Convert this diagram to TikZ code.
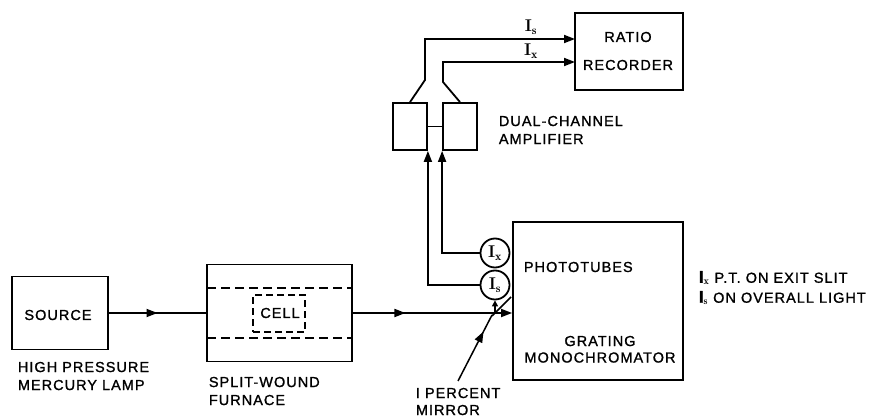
\documentclass[tikz,border=0pt]{standalone}
\usepackage{fontspec}
\newfontfamily\lett{Liberation Sans}[LetterSpace=7,FakeBold=1.2]
\usetikzlibrary{arrows.meta,decorations.markings}
\begin{document}
\begin{tikzpicture}[x=1pt,y=-1pt,line width=1.8pt,
  blk/.style={draw,rectangle,inner sep=0pt},
  lbl/.style={font=\lett\fontsize{14.5}{18}\selectfont,inner sep=0pt,align=left},
  ilbl/.style={font=\fontsize{17}{18}\selectfont\bfseries,inner sep=0pt},
  tube/.style={draw,circle,minimum size=29pt,inner sep=0pt,font=\fontsize{17}{18}\selectfont\bfseries},
  tip/.style={-{Triangle[length=11pt,width=8pt]}},
  midarrow/.style={postaction={decorate,decoration={markings,mark=at position #1 with {\arrow{Triangle[length=11pt,width=8pt]}}}}}
]
\useasboundingbox (0,0) rectangle (889,417);

% blocks
\node[blk,minimum width=96pt,minimum height=73pt] (src) at (60,313) {};
\node[blk,minimum width=145pt,minimum height=97pt] (furn) at (279.5,313) {};
\node[blk,dashed,dash pattern=on 7pt off 4pt,minimum width=52pt,minimum height=37pt] (cell) at (279,313.5) {};
\coordinate (dA1) at (207,288); \coordinate (dA2) at (352,288);
\coordinate (dB1) at (207,338); \coordinate (dB2) at (352,338);
\draw[dash pattern=on 9pt off 5pt] (dA1) -- (dA2);
\draw[dash pattern=on 9pt off 5pt] (dB1) -- (dB2);
\node[blk,minimum width=170pt,minimum height=158pt] (mono) at (598,301) {};
\node[blk,minimum width=34pt,minimum height=47pt] (ampL) at (410,126.5) {};
\node[blk,minimum width=34pt,minimum height=47pt] (ampR) at (460,126.5) {};
\node[blk,minimum width=108pt,minimum height=77pt] (ratio) at (629,51.5) {};
\node[tube] (cx) at (495,253) {I$_{\mathbf{x}}$};
\node[tube] (cs) at (495,285) {I$_{\mathbf{s}}$};

% texts
\node[lbl] (tsrc) at (58,315) {SOURCE};
\node[lbl] (tcell) at (280,313) {CELL};
\node[lbl,anchor=north west] (tlamp) at (17,361) {HIGH PRESSURE\\MERCURY LAMP};
\node[lbl,anchor=north west] (tfurn) at (208,376) {SPLIT-WOUND\\FURNACE};
\node[lbl,anchor=north west] (tamp) at (498,115) {DUAL-CHANNEL\\AMPLIFIER};
\node[lbl] (tratio) at (628,37) {RATIO};
\node[lbl] (trec) at (628,65) {RECORDER};
\node[lbl,anchor=west] (tpt) at (523,267) {PHOTOTUBES};
\node[lbl,align=center,anchor=north,font=\lett\fontsize{14.5}{16.5}\selectfont] (tgm) at (600,335) {GRATING\\MONOCHROMATOR};
\node[lbl,anchor=north west,font=\lett\fontsize{14.5}{17}\selectfont] (tmir) at (415,387) {I PERCENT\\MIRROR};
\node[lbl,anchor=west] (tn1) at (698,278) {{\fontsize{17}{18}\selectfont\bfseries I}$_{\mathbf{x}}$ P.T. ON EXIT SLIT};
\node[lbl,anchor=west] (tn2) at (698,298) {{\fontsize{17}{18}\selectfont\bfseries I}$_{\mathbf{s}}$ ON OVERALL LIGHT};
\node[ilbl] (lIs) at (531,27) {I$_{\mathbf{s}}$};
\node[ilbl] (lIx) at (531,51) {I$_{\mathbf{x}}$};

% light path
\draw[midarrow=0.5] (src.east) -- (furn.west);
\draw[tip,midarrow=0.33] (furn.east) -- (furn.east -| mono.west);

% mirror
\coordinate (mA) at (492,316);
\coordinate (mB) at (511,297);
\draw[line width=1.5pt] (mA) -- (mB);
\coordinate (mup) at (495,312);
\draw[line width=1.3pt,-{Triangle[length=6pt,width=6pt]}] (mup) -- (cs.south);
\coordinate (mlbl) at (458,381);
\coordinate (mhit) at (492,315);
\draw[line width=1.5pt,midarrow=0.75] (mlbl) -- (mhit);

% phototubes to amplifier
\draw[tip] (cs.west) -| (ampL.south east);
\draw[tip] (cx.west) -| (ampR.south west);
\draw (ampL.east) -- (ampR.west);

% amplifier to recorder
\coordinate (k1) at (425,80);
\coordinate (k2) at (443,82);
\coordinate (r1) at (575,39);
\coordinate (r2) at (575,62);
\draw[tip] (ampL.north) -- (k1) |- (r1);
\draw[tip] (ampR.north) -- (k2) |- (r2);
\end{tikzpicture}
\end{document}
